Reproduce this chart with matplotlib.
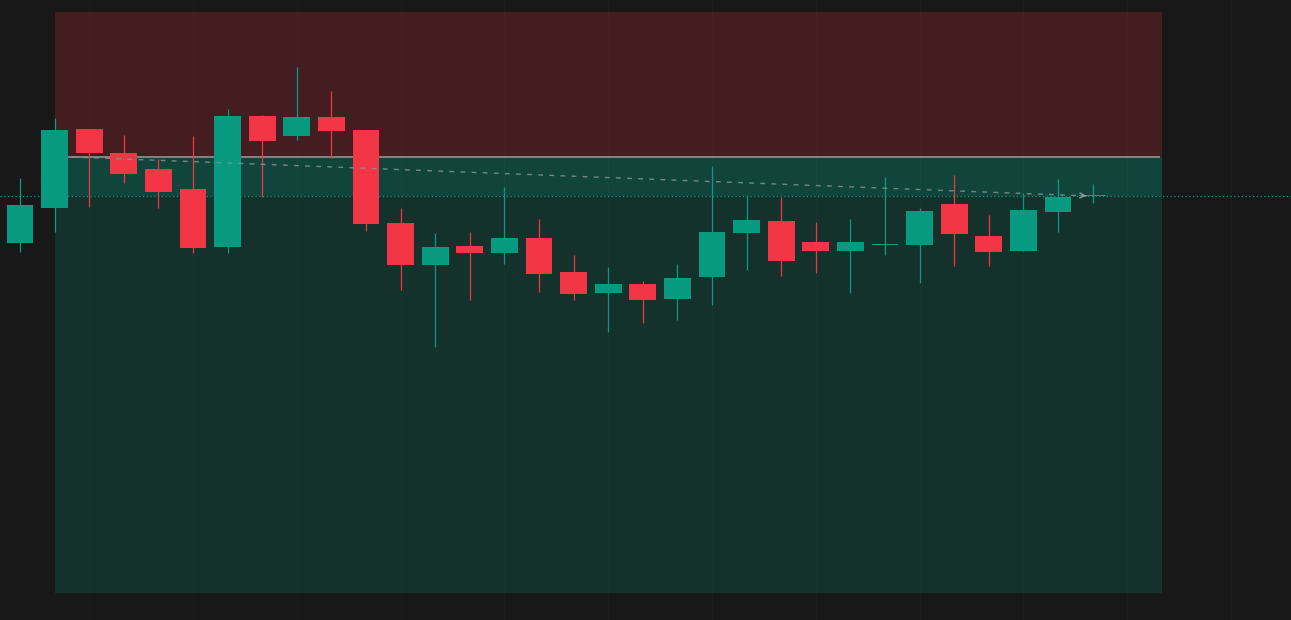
import matplotlib
matplotlib.use("Agg")
import matplotlib.pyplot as plt
import numpy as np

# OHLC data, one entry per bar
opens = [99.07, 99.77, 101.34, 100.86, 100.54, 100.14, 98.99, 101.60, 101.21, 101.58,
         101.32, 99.46, 98.62, 99.00, 98.86, 99.16, 98.48, 98.06, 98.24, 97.94,
         98.39, 99.27, 99.50, 99.08, 98.91, 99.03, 99.03, 99.84, 99.20, 98.90,
         99.69, 100.00]
highs = [100.36, 101.56, 101.34, 101.22, 100.74, 101.20, 101.74, 101.62, 102.58, 102.10,
         101.32, 99.76, 99.26, 99.28, 100.18, 99.54, 98.82, 98.58, 98.30, 98.64,
         100.60, 100.02, 99.98, 99.48, 99.54, 100.38, 99.76, 100.42, 99.62, 100.06,
         100.34, 100.24]
lows = [98.89, 99.29, 99.79, 100.27, 99.77, 98.87, 98.87, 99.98, 101.13, 100.77,
        99.30, 98.13, 96.99, 97.93, 98.65, 98.09, 97.93, 97.29, 97.47, 97.53,
        97.83, 98.53, 98.41, 98.47, 98.07, 98.83, 98.27, 98.61, 98.61, 98.90,
        99.29, 99.87]
closes = [99.82, 101.32, 100.87, 100.45, 100.09, 98.97, 101.60, 101.11, 101.58, 101.31,
          99.45, 98.62, 98.98, 98.86, 99.16, 98.44, 98.04, 98.24, 97.92, 98.36,
          99.28, 99.52, 98.71, 98.91, 99.08, 99.03, 99.70, 99.25, 98.89, 99.72,
          99.98, 100.00]

# Short position tool
entry_price = 100.78
stop_price = 103.68
target_price = 92.06
current_price = 100.00
tool_start, tool_end = 1, 33
entry_bar, current_bar = 1.5, 30.9

bg = "#181818"
up_color = "#089981"
down_color = "#F23645"

fig = plt.figure(figsize=(12.91, 6.2), dpi=100, facecolor=bg)
ax = fig.add_axes([0, 0, 1, 1])
ax.set_facecolor(bg)
ax.set_axis_off()

# very faint vertical grid every third bar
for gx in range(2, 37, 3):
    ax.axvline(gx, color="#1d1d1d", lw=0.7, zorder=0.5)

# risk / reward zones
ax.fill_between([tool_start, tool_end], entry_price, stop_price,
                color=down_color, alpha=0.2, lw=0, zorder=1)
ax.fill_between([tool_start, tool_end], target_price, entry_price,
                color=up_color, alpha=0.2, lw=0, zorder=1)
ax.fill_between([tool_start, tool_end], current_price, entry_price,
                color=up_color, alpha=0.2, lw=0, zorder=1)
ax.plot([tool_start, tool_end - 0.05], [entry_price, entry_price],
        color="#8a8a8a", lw=1.3, zorder=2, solid_capstyle="butt")

# current price line
ax.axhline(current_price, color=up_color, lw=0.9, ls=(0, (1, 2)), zorder=2)

# candles
x = np.arange(len(opens))
o = np.array(opens)
c = np.array(closes)
colors = [up_color if cc >= oo else down_color for oo, cc in zip(o, c)]
ax.vlines(x, lows, highs, colors=colors, lw=0.9, zorder=3)
body = np.abs(c - o)
body = np.where(body < 0.02, 0.02, body)
ax.bar(x, body, bottom=np.minimum(o, c), width=0.78, color=colors, lw=0, zorder=4)

# dashed path from entry to current bar
ax.plot([entry_bar, current_bar], [entry_price, current_price],
        color="#8c9693", lw=1.0, ls=(0, (3.5, 4.5)), alpha=0.8, zorder=5)
ax.annotate("", xy=(current_bar, current_price), xytext=(current_bar - 0.3, current_price + 0.012),
            arrowprops=dict(arrowstyle="->", color="#8c9693", lw=1.0, mutation_scale=9),
            zorder=5)

ax.set_xlim(-0.578, 36.734)
ax.set_ylim(91.52, 103.92)

fig.savefig("out.png", dpi=100, facecolor=bg)
